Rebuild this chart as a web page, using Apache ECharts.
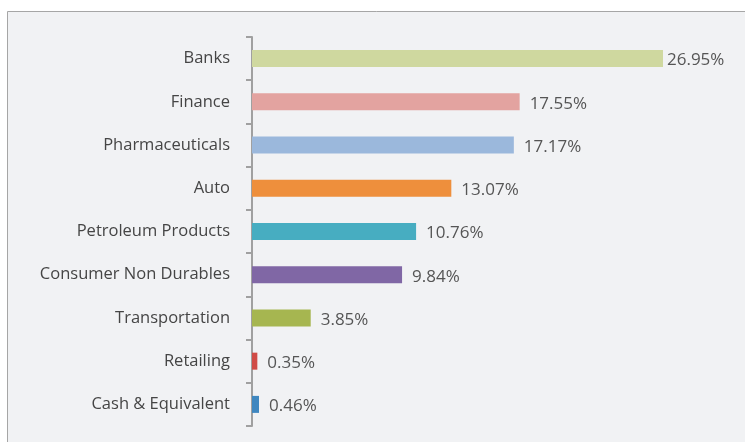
<!DOCTYPE html>
<html>
<head>
<meta charset="utf-8">
<script src="https://cdn.jsdelivr.net/npm/echarts@6/dist/echarts.min.js"></script>
<style>
  html, body { margin: 0; padding: 0; background: #fff; }
  #chart { width: 745px; height: 442px; }
</style>
</head>
<body>
<div id="chart"></div>
<script>
var categories = ['Banks', 'Finance', 'Pharmaceuticals', 'Auto', 'Petroleum Products',
    'Consumer Non Durables', 'Transportation', 'Retailing', 'Cash & Equivalent'];
var weights = [26.95, 17.55, 17.17, 13.07, 10.76, 9.84, 3.85, 0.35, 0.46];
var barColors = ['#cfd89f', '#e3a3a0', '#9bb8dc', '#ee8f3c', '#47adc1',
    '#8067a5', '#a6b650', '#d04b46', '#3f87c0'];

var chart = echarts.init(document.getElementById('chart'));

var seriesData = weights.map(function (v, i) {
    var item = { value: v, itemStyle: { color: barColors[i] } };
    if (i === 0) item.label = { distance: 4 };
    return item;
});

chart.setOption({
    animation: false,
    backgroundColor: '#ffffff',
    graphic: [{
        type: 'rect',
        left: 7, top: 11, z: -10,
        shape: { width: 760, height: 460 },
        style: { fill: '#f1f2f4', stroke: '#a6a6a6', lineWidth: 1 }
    }],
    grid: { left: 252, top: 37, bottom: 16, width: 457.5 },
    xAxis: {
        type: 'value', min: 0, max: 30,
        show: false
    },
    yAxis: {
        type: 'category',
        data: categories,
        inverse: true,
        axisLine: { show: true, lineStyle: { color: '#a0a0a0', width: 2 } },
        axisTick: { show: true, length: 6, lineStyle: { color: '#a0a0a0', width: 2 } },
        axisLabel: { color: '#454545', fontSize: 16.5, fontFamily: 'Open Sans', margin: 22 }
    },
    series: [{
        type: 'bar',
        data: seriesData,
        barWidth: 17,
        label: {
            show: true, position: 'right', distance: 10,
            color: '#555555', fontSize: 17, fontFamily: 'Open Sans',
            offset: [0, 2],
            formatter: function (p) { return p.value.toFixed(2) + '%'; }
        }
    }]
});
</script>
</body>
</html>
